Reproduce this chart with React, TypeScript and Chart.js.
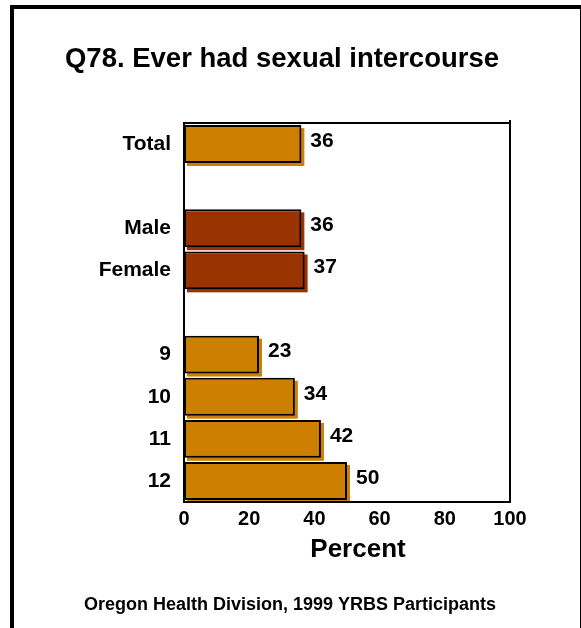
import React, { useEffect, useRef } from "react";
import { Chart, registerables } from "chart.js";

Chart.register(...registerables);

// ---- data ----
const categories: string[] = ["Total", "", "Male", "Female", "", "9", "10", "11", "12"];
const percentValues: (number | null)[] = [36, null, 36, 37, null, 23, 34, 42, 50];
const groupOf: string[] = ["total", "", "sex", "sex", "", "grade", "grade", "grade", "grade"];
const xTickMin = 0;
const xTickMax = 100;
const xTickStep = 20;
const titleText = "Q78. Ever had sexual intercourse";
const axisTitleText = "Percent";
const sourceText = "Oregon Health Division, 1999 YRBS Participants";

// ---- styles ----
const FONT = '"Liberation Sans", Arial, Helvetica, sans-serif';
const ORANGE = "#CC7F00";
const BROWN = "#993300";
const colorFor = (g: string) => (g === "sex" ? BROWN : ORANGE);
const barColors = groupOf.map(colorFor);

const decorPlugin = {
  id: "decor",
  beforeDatasetsDraw(chart: any) {
    const ctx = chart.ctx;
    const meta = chart.getDatasetMeta(0);
    ctx.save();
    meta.data.forEach((bar: any, i: number) => {
      if (percentValues[i] == null) return;
      const p = bar.getProps(["x", "y", "base", "height"], true);
      ctx.fillStyle = barColors[i];
      ctx.fillRect(p.base + 3, p.y - p.height / 2 + 3, p.x - p.base, p.height);
    });
    ctx.restore();
  },
  afterDatasetsDraw(chart: any) {
    const ctx = chart.ctx;
    const { left, top, right, bottom } = chart.chartArea;
    ctx.save();
    // plot frame
    ctx.strokeStyle = "#000";
    ctx.lineWidth = 2;
    ctx.strokeRect(left, top, right - left, bottom - top);
    // small tick at top-right corner
    ctx.beginPath();
    ctx.moveTo(right, top - 3);
    ctx.lineTo(right, top);
    ctx.stroke();

    // value labels
    const meta = chart.getDatasetMeta(0);
    ctx.fillStyle = "#000";
    ctx.font = `bold 21px ${FONT}`;
    ctx.textAlign = "left";
    ctx.textBaseline = "middle";
    meta.data.forEach((bar: any, i: number) => {
      const v = percentValues[i];
      if (v == null) return;
      const p = bar.getProps(["x", "y"], true);
      ctx.fillText(String(v), p.x + 9, p.y - 3);
    });

    // title
    ctx.textAlign = "center";
    ctx.font = `bold 27.5px ${FONT}`;
    ctx.fillText(titleText, 282, 59);
    // axis title
    ctx.font = `bold 26px ${FONT}`;
    ctx.fillText(axisTitleText, 358, 550);
    // source
    ctx.font = `bold 18px ${FONT}`;
    ctx.fillText(sourceText, 290, 605);

    // page frame
    ctx.lineWidth = 4;
    ctx.strokeRect(12, 7, 581 - 12 + 1, 700);
    ctx.restore();
  },
};

export default function App() {
  const canvasRef = useRef<HTMLCanvasElement | null>(null);

  useEffect(() => {
    if (!canvasRef.current) return;
    const chart = new Chart(canvasRef.current, {
      type: "bar",
      data: {
        labels: categories,
        datasets: [
          {
            data: percentValues as any,
            backgroundColor: barColors,
            borderColor: "#000",
            borderWidth: 2,
            borderSkipped: false,
            barPercentage: 0.9,
            categoryPercentage: 1,
          },
        ],
      },
      options: {
        indexAxis: "y",
        animation: false,
        responsive: false,
        layout: { padding: { left: 0, top: 123, right: 71, bottom: 0 } },
        plugins: {
          legend: { display: false },
          tooltip: { enabled: false },
          title: { display: false },
        },
        scales: {
          x: {
            type: "linear",
            min: xTickMin,
            max: xTickMax,
            grid: { display: false, drawTicks: false },
            border: { display: false },
            ticks: {
              stepSize: xTickStep,
              color: "#000",
              font: { family: FONT, size: 20, weight: "bold" },
              padding: 5,
            },
            afterFit: (scale: any) => {
              scale.height = 126;
            },
          },
          y: {
            type: "category",
            grid: { display: false, drawTicks: false },
            border: { display: false },
            ticks: {
              color: "#000",
              font: { family: FONT, size: 21, weight: "bold" },
              padding: 13,
              autoSkip: false,
            },
            afterFit: (scale: any) => {
              scale.width = 184;
            },
          },
        },
      },
      plugins: [decorPlugin],
    });
    return () => chart.destroy();
  }, []);

  return (
    <div style={{ position: "absolute", left: 0, top: 0, width: 581, height: 628, background: "#fff" }}>
      <canvas ref={canvasRef} width={581} height={628} style={{ display: "block" }} />
    </div>
  );
}
